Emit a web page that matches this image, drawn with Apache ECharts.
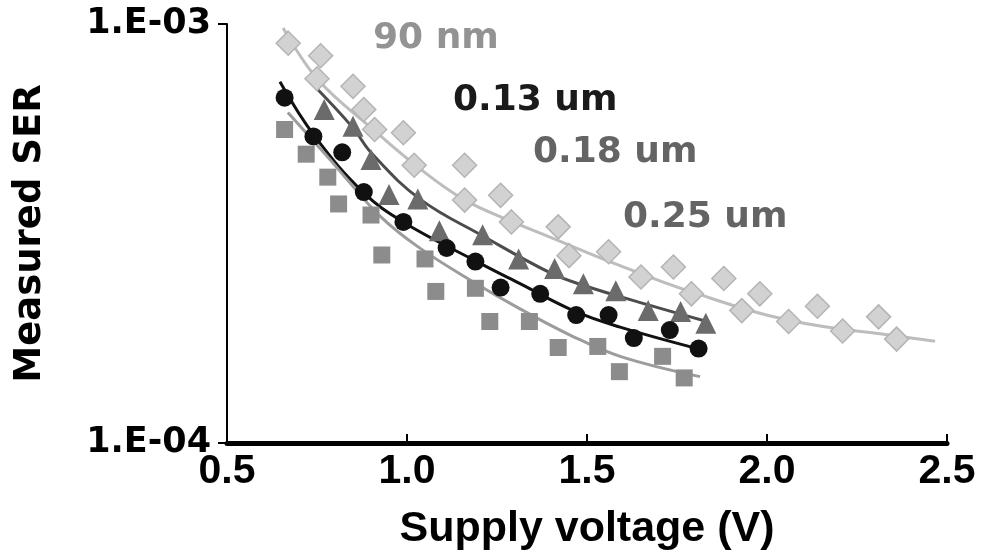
<!DOCTYPE html>
<html>
<head>
<meta charset="utf-8">
<script src="https://cdn.jsdelivr.net/npm/echarts@6/dist/echarts.min.js"></script>
<style>
  html, body { margin: 0; padding: 0; background: #fff; }
  #ser_chart { width: 993px; height: 556px; }
</style>
</head>
<body>
<div id="ser_chart"></div>
<script>
// measured points (V, SER)
const v90 = [0.67, 0.76, 0.75, 0.85, 0.88, 0.91, 0.99, 1.02, 1.16, 1.16, 1.26, 1.29, 1.42, 1.45, 1.56, 1.65, 1.74, 1.79, 1.88, 1.93, 1.98, 2.06, 2.14, 2.21, 2.31, 2.36];
const ser90 = [9.0e-4, 8.4e-4, 7.4e-4, 7.1e-4, 6.25e-4, 5.6e-4, 5.5e-4, 4.6e-4, 4.6e-4, 3.8e-4, 3.9e-4, 3.37e-4, 3.28e-4, 2.8e-4, 2.86e-4, 2.49e-4, 2.63e-4, 2.27e-4, 2.47e-4, 2.07e-4, 2.27e-4, 1.95e-4, 2.12e-4, 1.85e-4, 2.0e-4, 1.77e-4];

const v130 = [0.66, 0.74, 0.82, 0.88, 0.99, 1.11, 1.19, 1.26, 1.37, 1.47, 1.56, 1.63, 1.73, 1.81];
const ser130 = [6.67e-4, 5.39e-4, 4.94e-4, 3.97e-4, 3.37e-4, 2.92e-4, 2.71e-4, 2.35e-4, 2.27e-4, 2.02e-4, 2.02e-4, 1.78e-4, 1.86e-4, 1.68e-4];

const v180 = [0.77, 0.85, 0.90, 0.95, 1.03, 1.09, 1.21, 1.31, 1.41, 1.49, 1.58, 1.67, 1.76, 1.83];
const ser180 = [6.25e-4, 5.7e-4, 4.75e-4, 3.92e-4, 3.82e-4, 3.21e-4, 3.14e-4, 2.75e-4, 2.61e-4, 2.40e-4, 2.31e-4, 2.07e-4, 2.06e-4, 1.93e-4];

const v250 = [0.66, 0.72, 0.78, 0.81, 0.90, 0.93, 1.05, 1.08, 1.19, 1.23, 1.34, 1.42, 1.53, 1.59, 1.71, 1.77];
const ser250 = [5.6e-4, 4.89e-4, 4.31e-4, 3.72e-4, 3.5e-4, 2.81e-4, 2.75e-4, 2.30e-4, 2.34e-4, 1.95e-4, 1.95e-4, 1.69e-4, 1.70e-4, 1.48e-4, 1.61e-4, 1.43e-4];

// trend curves
const fitV90 = [0.656, 0.753, 0.906, 1.028, 1.156, 1.294, 1.397, 1.592, 1.786, 2.064, 2.361, 2.467];
const fitSer90 = [9.78e-4, 7.36e-4, 5.6e-4, 4.57e-4, 3.82e-4, 3.37e-4, 3.10e-4, 2.65e-4, 2.30e-4, 1.96e-4, 1.80e-4, 1.75e-4];
const fitV130 = [0.647, 0.744, 0.878, 0.989, 1.194, 1.314, 1.467, 1.592, 1.806];
const fitSer130 = [7.28e-4, 5.39e-4, 3.97e-4, 3.37e-4, 2.71e-4, 2.40e-4, 2.06e-4, 1.89e-4, 1.68e-4];
const fitV180 = [0.731, 0.847, 0.903, 1.036, 1.211, 1.397, 1.489, 1.675, 1.833];
const fitSer180 = [7.28e-4, 5.69e-4, 4.9e-4, 3.82e-4, 3.12e-4, 2.55e-4, 2.38e-4, 2.13e-4, 1.95e-4];
const fitV250 = [0.669, 0.786, 0.833, 0.925, 1.028, 1.175, 1.314, 1.453, 1.592, 1.814];
const fitSer250 = [6.15e-4, 4.75e-4, 4.26e-4, 3.48e-4, 2.95e-4, 2.45e-4, 2.09e-4, 1.81e-4, 1.61e-4, 1.44e-4];

const xTicks = [0.5, 1.0, 1.5, 2.0, 2.5];

function pairs(xs, ys) {
    return xs.map(function (x, i) { return [x, ys[i]]; });
}

function fitLine(xs, ys, color) {
    return {
        type: 'line',
        data: pairs(xs, ys),
        smooth: 0.4,
        showSymbol: false,
        silent: true,
        z: 2,
        lineStyle: { color: color, width: 3 }
    };
}

function dots(xs, ys, symbol, size, fill, border) {
    return {
        type: 'scatter',
        data: pairs(xs, ys),
        symbol: symbol,
        symbolSize: size,
        z: 3,
        itemStyle: { color: fill, borderColor: border, borderWidth: border ? 1.5 : 0, opacity: 1 }
    };
}

const labelFont = { fontFamily: 'DejaVu Sans', fontWeight: 'bold', fontSize: 36 };

const chart = echarts.init(document.getElementById('ser_chart'));
chart.setOption({
    backgroundColor: '#ffffff',
    animation: false,
    grid: { left: 227, right: 46, top: 24, bottom: 111 },
    xAxis: {
        type: 'value',
        min: xTicks[0],
        max: xTicks[xTicks.length - 1],
        interval: 0.5,
        name: 'Supply voltage (V)',
        nameLocation: 'middle',
        nameGap: 65,
        nameTextStyle: { fontFamily: 'Liberation Sans', fontWeight: 'bold', fontSize: 43, color: '#000' },
        axisLine: { lineStyle: { color: '#000', width: 5 } },
        axisTick: { inside: true, length: 9, lineStyle: { color: '#000', width: 2 } },
        axisLabel: {
            margin: 8,
            fontFamily: 'Liberation Sans', fontWeight: 'bold', fontSize: 41, color: '#000',
            formatter: function (v) { return v.toFixed(1); }
        },
        splitLine: { show: false }
    },
    yAxis: {
        type: 'log',
        logBase: 10,
        min: 1e-4,
        max: 1e-3,
        name: 'Measured SER',
        nameLocation: 'middle',
        nameGap: 178,
        nameTextStyle: { fontFamily: 'DejaVu Sans', fontWeight: 'bold', fontSize: 37, color: '#000' },
        axisLine: { lineStyle: { color: '#000', width: 2 } },
        axisTick: { length: 9, lineStyle: { color: '#000', width: 2 } },
        axisLabel: {
            margin: 16,
            fontFamily: 'DejaVu Sans', fontWeight: 'bold', fontSize: 35, color: '#000',
            formatter: function (v) {
                const e = Math.round(Math.log10(v));
                return '1.E-0' + Math.abs(e);
            }
        },
        splitLine: { show: false },
        minorTick: { show: false }
    },
    graphic: [
        { type: 'text', left: 373, top: 21, style: Object.assign({ text: '90 nm', fill: '#939393' }, labelFont) },
        { type: 'text', left: 453, top: 83, style: Object.assign({ text: '0.13 um', fill: '#1a1a1a' }, labelFont) },
        { type: 'text', left: 533, top: 135, style: Object.assign({ text: '0.18 um', fill: '#646464' }, labelFont) },
        { type: 'text', left: 623, top: 200, style: Object.assign({ text: '0.25 um', fill: '#646464' }, labelFont) }
    ],
    series: [
        fitLine(fitV90, fitSer90, '#bdbdbd'),
        fitLine(fitV180, fitSer180, '#4c4c4c'),
        fitLine(fitV130, fitSer130, '#111111'),
        fitLine(fitV250, fitSer250, '#9c9c9c'),
        dots(v90, ser90, 'diamond', 24, '#d2d2d2', '#b4b4b4'),
        dots(v180, ser180, 'triangle', 21, '#6b6b6b', null),
        dots(v130, ser130, 'circle', 18, '#111111', null),
        dots(v250, ser250, 'rect', 17, '#8c8c8c', null)
    ]
});
</script>
</body>
</html>
